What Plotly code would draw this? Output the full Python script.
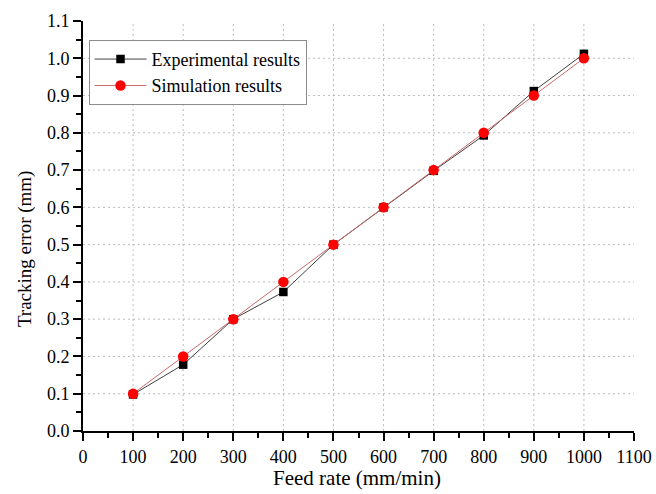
import plotly.graph_objects as go

feed_rate = [100, 200, 300, 400, 500, 600, 700, 800, 900, 1000]
experimental = [0.098, 0.178, 0.300, 0.373, 0.500, 0.600, 0.698, 0.793, 0.912, 1.012]
simulation = [0.10, 0.20, 0.30, 0.40, 0.50, 0.60, 0.70, 0.80, 0.90, 1.00]

x_ticks = list(range(0, 1101, 100))
y_ticks = [round(0.1 * i, 1) for i in range(12)]
# interior gridlines only (none along the outer edges of the frame)
x_grid = x_ticks[1:-1]
y_grid = y_ticks[1:-1]

font_family = "Liberation Serif, Times New Roman, serif"
grid_line = dict(color="#bcbcbc", width=1, dash="2px,3px")

fig = go.Figure()
fig.add_trace(go.Scatter(
    x=feed_rate, y=experimental, name="Experimental results",
    mode="lines+markers",
    line=dict(color="#404040", width=1),
    marker=dict(symbol="square", size=8.5, color="black"),
))
fig.add_trace(go.Scatter(
    x=feed_rate, y=simulation, name="Simulation results",
    mode="lines+markers",
    line=dict(color="#c86a6a", width=1),
    marker=dict(symbol="circle", size=10.5, color="#ff0000"),
))

# dotted grid at the interior tick positions, beneath the data
grid_shapes = [
    dict(type="line", xref="x", yref="paper", x0=v, x1=v, y0=0, y1=1,
         line=grid_line, layer="below")
    for v in x_grid
] + [
    dict(type="line", xref="paper", yref="y", x0=0, x1=1, y0=v, y1=v,
         line=grid_line, layer="below")
    for v in y_grid
]

tick_axis = dict(
    showline=True, linecolor="black", linewidth=2,
    ticks="outside", ticklen=8, tickwidth=2, tickcolor="black",
    showgrid=False, zeroline=False, automargin=False,
    tickfont=dict(family=font_family, size=18, color="black"),
)

fig.update_layout(
    width=656, height=494,
    margin=dict(l=83, r=22, t=21, b=63),
    plot_bgcolor="white", paper_bgcolor="white",
    xaxis=dict(
        range=[0, 1100], tickvals=x_ticks, ticktext=[str(v) for v in x_ticks],
        minor=dict(ticks="outside", ticklen=5, tickwidth=2, tickcolor="black",
                   dtick=50, tick0=0, showgrid=False),
        **tick_axis,
    ),
    yaxis=dict(
        range=[0, 1.1], tickvals=y_ticks, ticktext=[f"{v:.1f}" for v in y_ticks],
        minor=dict(ticks="outside", ticklen=5, tickwidth=2, tickcolor="black",
                   dtick=0.05, tick0=0, showgrid=False),
        **tick_axis,
    ),
    shapes=grid_shapes,
    legend=dict(
        x=0.01, y=0.954, xanchor="left", yanchor="top",
        bgcolor="white", bordercolor="#8c8c8c", borderwidth=1,
        font=dict(family=font_family, size=18, color="black"),
        itemwidth=52, tracegroupgap=0,
    ),
    showlegend=True,
    annotations=[
        dict(text="Feed rate (mm/min)", xref="paper", yref="paper",
             x=0.497, y=-0.115, xanchor="center", yanchor="middle", showarrow=False,
             font=dict(family=font_family, size=21, color="black")),
        dict(text="Tracking error (mm)", xref="paper", yref="paper",
             x=-0.105, y=0.444, xanchor="center", yanchor="middle", showarrow=False,
             textangle=-90,
             font=dict(family=font_family, size=19, color="black")),
    ],
)

fig.write_html("out.html")
